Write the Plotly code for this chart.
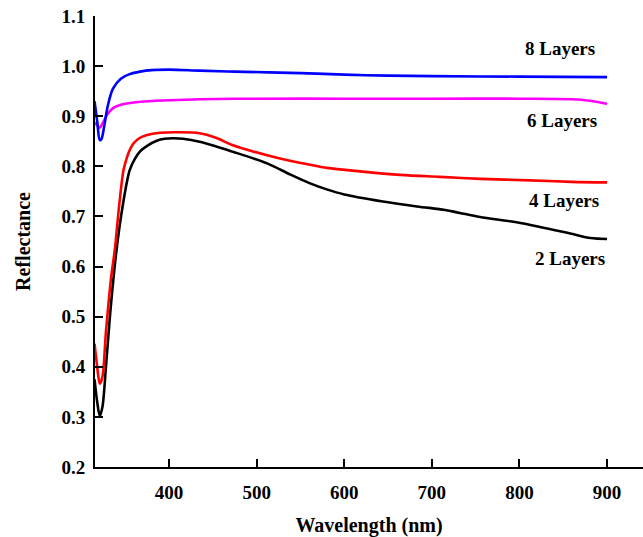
import plotly.graph_objects as go

# Reflectance spectra for multilayer stacks (wavelength in nm)
wl_8 = [315, 318, 321, 323, 326, 330, 336, 345, 355, 367, 380, 400, 435, 475,
        550, 600, 650, 700, 800, 900]
r_8 = [0.930, 0.890, 0.852, 0.855, 0.880, 0.920, 0.955, 0.975, 0.984, 0.989,
       0.992, 0.993, 0.991, 0.989, 0.986, 0.983, 0.981, 0.980, 0.979, 0.978]

wl_6 = [315, 318, 321, 324, 330, 337, 345, 367, 400, 435, 500, 600, 700, 800,
        860, 880, 900]
r_6 = [0.887, 0.882, 0.877, 0.885, 0.905, 0.917, 0.923, 0.929, 0.932, 0.934,
       0.935, 0.935, 0.935, 0.935, 0.934, 0.931, 0.925]

wl_4 = [315, 318, 321, 324, 328, 334, 338, 343, 348, 352, 356, 360, 366, 374,
        390, 410, 435, 455, 473, 512, 538, 561, 580, 618, 664, 709, 755, 812,
        860, 900]
r_4 = [0.446, 0.400, 0.366, 0.380, 0.470, 0.580, 0.632, 0.720, 0.792, 0.818,
       0.836, 0.847, 0.856, 0.862, 0.867, 0.868, 0.866, 0.856, 0.842, 0.822,
       0.811, 0.803, 0.797, 0.790, 0.783, 0.779, 0.775, 0.772, 0.769, 0.768]

wl_2 = [315, 318, 321, 324, 328, 333, 340, 347, 355, 361, 367, 375, 386, 395,
        405, 416, 435, 473, 512, 538, 561, 580, 600, 644, 683, 715, 732, 755,
        801, 858, 881, 900]
r_2 = [0.375, 0.330, 0.302, 0.320, 0.400, 0.510, 0.632, 0.720, 0.792, 0.815,
       0.830, 0.841, 0.851, 0.855, 0.856, 0.855, 0.849, 0.829, 0.806, 0.784,
       0.766, 0.754, 0.744, 0.730, 0.720, 0.713, 0.707, 0.699, 0.687, 0.666,
       0.657, 0.655]

labels = ["8 Layers", "6 Layers", "4 Layers", "2 Layers"]
label_x = [846, 849, 851, 858]
label_y = [1.036, 0.892, 0.732, 0.616]

x_ticks = [400, 500, 600, 700, 800, 900]
y_ticks = [0.2, 0.3, 0.4, 0.5, 0.6, 0.7, 0.8, 0.9, 1.0, 1.1]

FONT = "Liberation Serif, Times New Roman, serif"

fig = go.Figure()
for wl, r, color in [(wl_2, r_2, "#000000"), (wl_4, r_4, "#ff0000"),
                     (wl_6, r_6, "#ff00ff"), (wl_8, r_8, "#0000ff")]:
    fig.add_trace(go.Scatter(x=wl, y=r, mode="lines",
                             line=dict(color=color, width=2.6, shape="spline",
                                       smoothing=0.9),
                             showlegend=False, hoverinfo="skip"))

for txt, lx, ly in zip(labels, label_x, label_y):
    fig.add_annotation(x=lx, y=ly, text="<b>%s</b>" % txt, showarrow=False,
                       xanchor="center", yanchor="middle",
                       font=dict(family=FONT, size=19, color="black"))

axis_common = dict(showline=True, linecolor="black", linewidth=2,
                   ticks="inside", ticklen=8, tickwidth=2, tickcolor="black",
                   showgrid=False, zeroline=False,
                   tickfont=dict(family=FONT, size=19, color="black"))

fig.update_layout(
    width=643, height=537,
    margin=dict(l=95, r=0, t=16, b=70),
    paper_bgcolor="white", plot_bgcolor="white",
    xaxis=dict(range=[315.5, 941], tickvals=x_ticks,
               ticktext=["<b>%d</b>" % v for v in x_ticks],
               ticklabelstandoff=7,
               title=dict(text="<b>Wavelength (nm)</b>", standoff=16,
                          font=dict(family=FONT, size=20, color="black")),
               **axis_common),
    yaxis=dict(range=[0.2, 1.1], tickvals=y_ticks,
               ticktext=["<b>%.1f</b>" % v for v in y_ticks],
               ticklabelstandoff=4,
               title=dict(text="<b>Reflectance</b>", standoff=25,
                          font=dict(family=FONT, size=20, color="black")),
               **axis_common),
)

fig.write_html("out.html")
